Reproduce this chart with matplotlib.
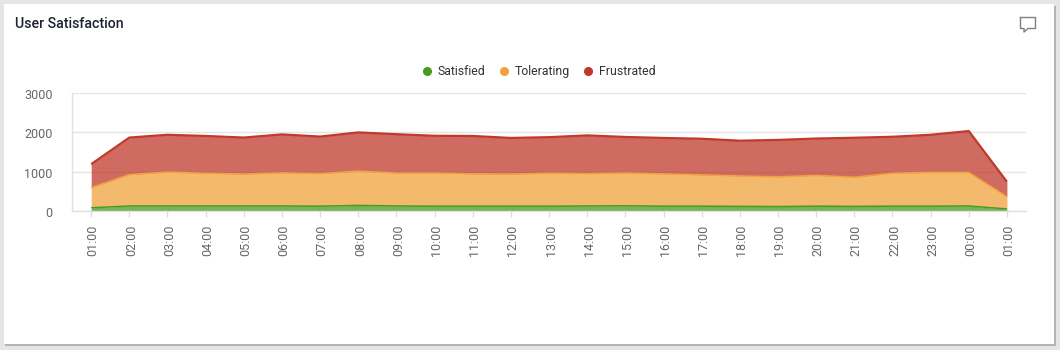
import numpy as np
from matplotlib import pyplot as plt
from matplotlib.lines import Line2D
from matplotlib.patches import Rectangle
from matplotlib.transforms import ScaledTranslation

hours = ["01:00", "02:00", "03:00", "04:00", "05:00", "06:00", "07:00", "08:00", "09:00",
         "10:00", "11:00", "12:00", "13:00", "14:00", "15:00", "16:00", "17:00", "18:00",
         "19:00", "20:00", "21:00", "22:00", "23:00", "00:00", "01:00"]
satisfied = [90, 135, 135, 135, 135, 135, 130, 150, 135, 130, 130, 130, 130,
             135, 140, 130, 130, 125, 120, 130, 125, 130, 130, 135, 60]
tolerating = [510, 795, 860, 830, 810, 840, 825, 870, 835, 840, 820, 815, 835,
              820, 830, 820, 795, 770, 755, 780, 740, 835, 855, 850, 310]
frustrated = [595, 940, 945, 945, 925, 975, 940, 980, 985, 945, 960, 915, 915,
              970, 915, 910, 915, 895, 935, 935, 1000, 925, 955, 1050, 380]
names = ["Satisfied", "Tolerating", "Frustrated"]
colors = ["#4a9a1f", "#f0a33e", "#c0392b"]
yticks = [0, 1000, 2000, 3000]

W, H = 1060, 350
plt.rcParams["font.family"] = ["Roboto", "DejaVu Sans"]
fig = plt.figure(figsize=(W / 100, H / 100), dpi=100, facecolor="#e4e5e7")

# card and its shadow, in pixels
fig.patches.append(Rectangle((5 / W, 1 - 345.5 / H), 1051 / W, 340 / H, transform=fig.transFigure,
                             facecolor="#b4b4b4", edgecolor="none"))
fig.patches.append(Rectangle((4 / W, 1 - 344 / H), 1050 / W, 340 / H, transform=fig.transFigure,
                             facecolor="white", edgecolor="none"))

ax = fig.add_axes([72.1 / W, 1 - 211.3 / H, 953.9 / W, 118.3 / H])
ax.set_zorder(5)
ax.patch.set_visible(False)
x = np.arange(len(hours))
base = np.zeros(len(hours))
tops = []
for vals, c in zip([satisfied, tolerating, frustrated], colors):
    top = base + np.array(vals)
    ax.fill_between(x, base, top, color=c, alpha=0.75, linewidth=0, zorder=2)
    tops.append(top)
    base = top
for top, c, lw in zip(tops, colors, [1.1, 1.1, 1.6]):
    ax.plot(x, top, color=c, lw=lw, zorder=3, solid_capstyle="butt")

ax.set_xlim(-0.5, 24.5)
ax.set_ylim(0, 3000)
ax.set_yticks(yticks)
ax.set_xticks(x)
ax.set_xticklabels(hours, rotation=90)
ax.tick_params(axis="x", length=4, width=1, color="#dddddd", labelcolor="#666666", labelsize=9, pad=5.5)
ax.tick_params(axis="y", length=0, labelcolor="#666666", labelsize=9, pad=14)
ax.grid(axis="y", color="#e4e4e4", lw=1)
ax.set_axisbelow(True)
for s in ["top", "right"]:
    ax.spines[s].set_visible(False)
for s in ["left", "bottom"]:
    ax.spines[s].set_color("#e0e0e0")
    ax.spines[s].set_linewidth(1)

# nudge the tick labels to sit on their ticks
for lab in ax.get_xticklabels():
    lab.set_transform(lab.get_transform() + ScaledTranslation(2 / 100, 0, fig.dpi_scale_trans))
for lab in ax.get_yticklabels():
    lab.set_transform(lab.get_transform() + ScaledTranslation(0, -1 / 100, fig.dpi_scale_trans))

handles = [Line2D([], [], ls="none", marker="o", ms=5.5, color=c) for c in colors]
leg = fig.legend(handles, names, loc="center", bbox_to_anchor=(538 / W, 1 - 71.5 / H), ncol=3, frameon=False,
                 fontsize=8.8, labelcolor="#333333", handletextpad=0.35, columnspacing=1.04, handlelength=1)
leg.set_zorder(6)

t = fig.text(15 / W, 1 - 24 / H, "User Satisfaction", fontsize=10.2, fontweight="medium", color="#1c2230",
             va="center", ha="left")
t.set_zorder(6)

# comment icon
ix = [1020.5, 1035.5, 1035.5, 1028, 1024, 1024, 1020.5, 1020.5]
iy = [17.5, 17.5, 28.5, 28.5, 32, 28.5, 28.5, 17.5]
icon = Line2D([a / W for a in ix], [1 - b / H for b in iy], color="#808080", lw=1, transform=fig.transFigure)
icon.set_zorder(6)
fig.add_artist(icon)

fig.savefig("out.png", dpi=100, facecolor=fig.get_facecolor())
